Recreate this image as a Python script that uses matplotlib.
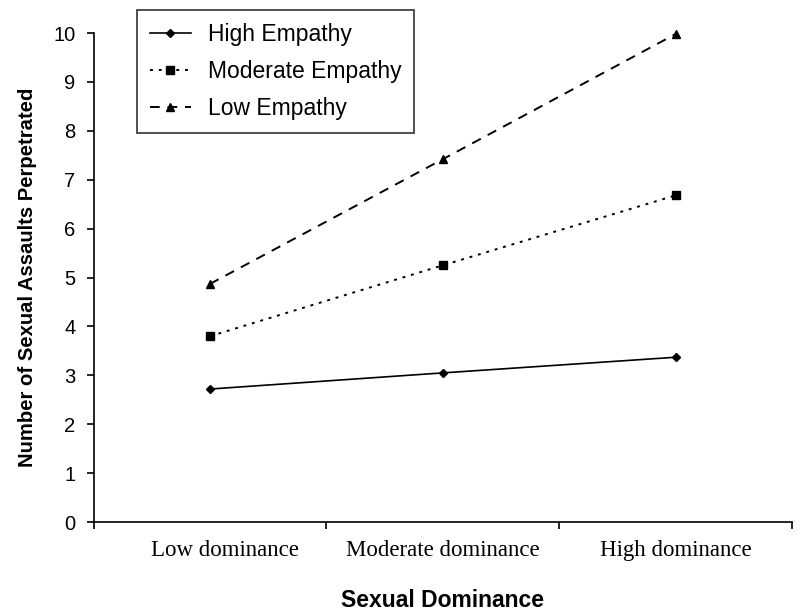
import numpy as np
import matplotlib
matplotlib.use("Agg")
import matplotlib.pyplot as plt
import matplotlib.transforms as mtransforms

categories = ["Low dominance", "Moderate dominance", "High dominance"]
high_empathy = [2.72, 3.05, 3.37]
moderate_empathy = [3.80, 5.25, 6.68]
low_empathy = [4.87, 7.42, 9.98]

plt.rcParams['font.family'] = ['Liberation Sans', 'DejaVu Sans']

fig = plt.figure(figsize=(8, 6.12), dpi=100)
ax = fig.add_axes([0.117, 0.147, 0.873, 0.799])

x = np.arange(len(categories)) + 0.5
ax.plot(x, high_empathy, color="black", lw=1.2, ls="-", marker="D", ms=4.5,
        label="High Empathy", clip_on=False)
ax.plot(x, moderate_empathy, color="black", lw=1.4, ls=(0, (1.5, 3)), marker="s", ms=6,
        label="Moderate Empathy", clip_on=False)
ax.plot(x, low_empathy, color="black", lw=1.4, ls=(0, (5, 4)), marker="^", ms=6,
        label="Low Empathy", clip_on=False)

ax.set_xlim(0, 3)
ax.set_ylim(0, 10)
ax.set_yticks(np.arange(0, 11, 1))
ax.tick_params(axis="y", labelsize=14.5, length=5, width=1.2, pad=8)
ax.set_xticks([0, 1, 2, 3])
ax.set_xticklabels([])
ax.tick_params(axis="x", which="major", length=5, width=1.2)
ax.set_xticks(x, minor=True)
ax.set_xticklabels(categories, minor=True, fontfamily="Liberation Serif", fontsize=16.5)
ax.tick_params(axis="x", which="minor", length=0, pad=13)
# the first category label sits a little right of its centre in the original
lbl = ax.get_xticklabels(minor=True)[0]
lbl.set_transform(lbl.get_transform() + mtransforms.ScaledTranslation(0.15, 0, fig.dpi_scale_trans))

for s in ["top", "right"]:
    ax.spines[s].set_visible(False)
for s in ["left", "bottom"]:
    ax.spines[s].set_linewidth(1.2)

ax.set_ylabel("Number of Sexual Assaults Perpetrated", fontsize=14.6, fontweight="bold", labelpad=12)
ax.set_xlabel("Sexual Dominance", fontsize=16.5, fontweight="bold", labelpad=20)

leg = ax.legend(loc="upper left", bbox_to_anchor=(137 / 800, 1 - 10 / 612),
                bbox_transform=fig.transFigure, borderaxespad=0,
                fontsize=16.5, frameon=True, fancybox=False, edgecolor="black",
                handlelength=1.8, handletextpad=0.75, borderpad=0.55, labelspacing=0.62)
leg.get_frame().set_linewidth(1.2)

fig.savefig("out.png", dpi=100)
